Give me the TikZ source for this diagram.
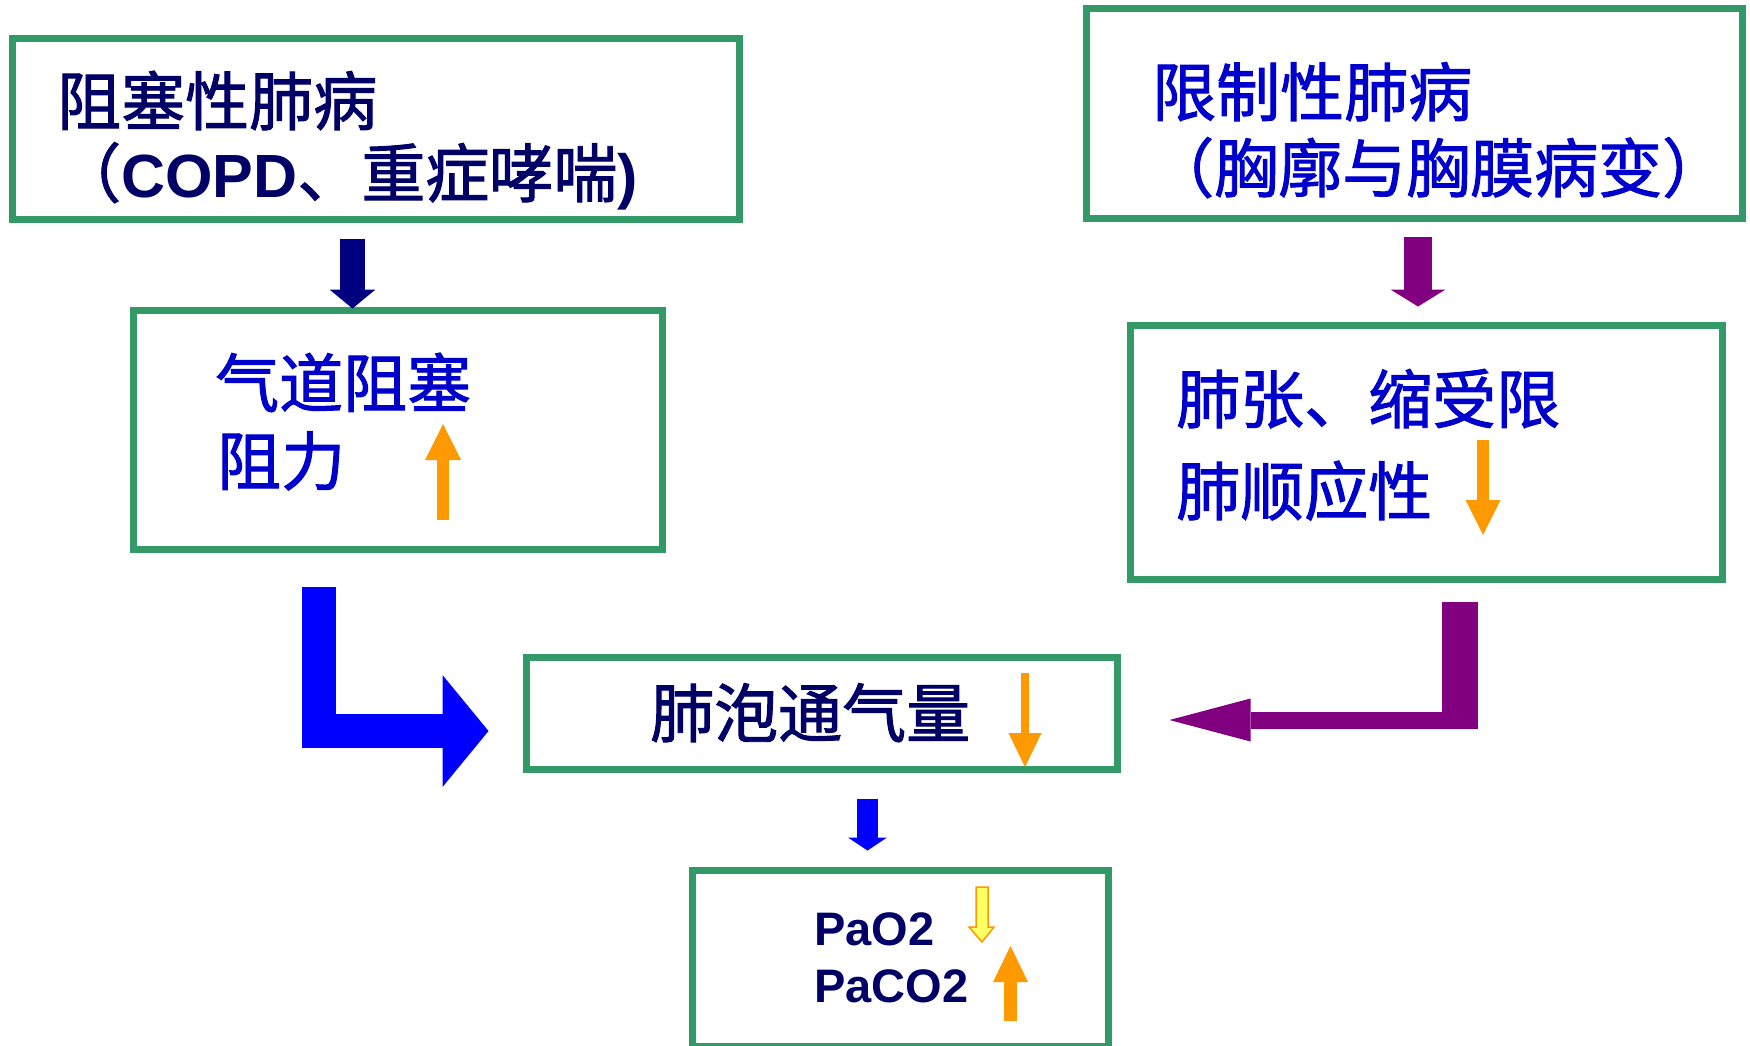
\documentclass[tikz,border=0pt]{standalone}
\usepackage{fontspec}
\usetikzlibrary{arrows.meta}
\newfontfamily\cjk{Noto Sans CJK SC}[FakeBold=1.5]
\newfontfamily\lat{Liberation Sans}
\definecolor{boxgreen}{HTML}{339966}
\definecolor{txnavy}{HTML}{000066}
\definecolor{txblue}{HTML}{0000CC}
\definecolor{arnavy}{HTML}{000080}
\definecolor{arpurple}{HTML}{800080}
\definecolor{arblue}{HTML}{0000FF}
\definecolor{arorange}{HTML}{FF9900}
\definecolor{aryellow}{HTML}{FFFF66}
\tikzset{
  box/.style={draw=boxgreen, line width=7pt, inner sep=0pt, rectangle},
  cjkt/.style={anchor=base west, inner sep=0pt, font=\cjk\fontsize{64}{64}\selectfont},
  latt/.style={anchor=base west, inner sep=0pt, font=\lat\bfseries\fontsize{47}{47}\selectfont, text=txnavy},
  fatarrow/.style={line cap=butt, line join=miter},
  orangearrow/.style={draw=arorange, line width=#1, line cap=butt},
}
\begin{document}
\begin{tikzpicture}[x=1pt,y=-1pt]
\useasboundingbox (0,0) rectangle (1750,1045);
% boxes
\node[box, minimum width=727pt, minimum height=181pt] (b1) at (376,129) {};
\node[box, minimum width=656pt, minimum height=210pt] (b2) at (1414.5,113.5) {};
\node[box, minimum width=529pt, minimum height=239pt] (b3) at (398,430) {};
\node[box, minimum width=592pt, minimum height=254pt] (b4) at (1426.5,452.5) {};
\node[box, minimum width=591pt, minimum height=112pt] (b5) at (822,713.5) {};
\node[box, minimum width=416pt, minimum height=176pt] (b6) at (900.5,958.5) {};
% texts
\node[cjkt, text=txnavy] (t1a) at (57,125) {阻塞性肺病};
\node[cjkt, text=txnavy] (t1b) at (57,197) {（{\lat\bfseries\fontsize{61}{61}\selectfont COPD}、重症哮喘{\lat\bfseries\fontsize{61}{61}\selectfont )}};
\node[cjkt, text=txblue] (t2a) at (1152,116) {限制性肺病};
\node[cjkt, text=txblue] (t2b) at (1150,192) {（胸廓与胸膜病变）};
\node[cjkt, text=txblue] (t3a) at (215,407) {气道阻塞};
\node[cjkt, text=txblue] (t3b) at (217,485) {阻力};
\node[cjkt, text=txblue] (t4a) at (1176,423) {肺张、缩受限};
\node[cjkt, text=txblue] (t4b) at (1176,515) {肺顺应性};
\node[cjkt, text=txnavy] (t5) at (650,737) {肺泡通气量};
\node[latt] (t6a) at (814,945) {PaO2};
\node[latt] (t6b) at (814,1002) {PaCO2};
% connectors
\draw[fatarrow, arnavy, line width=25pt, -{Triangle[width=46pt,length=19pt,line width=0pt]}]
  ([xshift=-23.5pt,yshift=-15.5pt]b1.south) -- ([xshift=-45.5pt,yshift=-1.5pt]b3.north);
\draw[fatarrow, arpurple, line width=28pt, -{Triangle[width=55pt,length=17pt,line width=0pt]}]
  ([xshift=3.5pt,yshift=-14.5pt]b2.south) -- ([xshift=-8.5pt,yshift=15.5pt]b4.north);
\draw[fatarrow, arblue, line width=34pt, -{Triangle[width=112pt,length=46pt,line width=0pt]}]
  ([xshift=-79pt,yshift=-33.5pt]b3.south) |- ([xshift=-34.5pt,yshift=-17.5pt]b5.west);
\coordinate (p4s) at ([xshift=33.5pt,yshift=-18.5pt]b4.south);
\coordinate (p5e) at ([xshift=48.5pt,yshift=-6.5pt]b5.east);
\draw[fatarrow, arpurple, line width=36pt] (p4s) -- ([yshift=-8.5pt]p4s |- p5e);
\draw[fatarrow, arpurple, line width=17pt, -{Triangle[width=43pt,length=81pt,line width=0pt]}]
  ([xshift=18pt]p4s |- p5e) -- (p5e);
\draw[fatarrow, arblue, line width=21pt, -{Triangle[width=39pt,length=13pt,line width=0pt]}]
  ([xshift=45.5pt,yshift=-25.5pt]b5.south) -- ([xshift=-33pt,yshift=16.5pt]b6.north);
% indicator arrows
\draw[orangearrow=12pt, -{Triangle[width=36pt,length=36pt,line width=0pt]}] (443,520) -- (443,424);
\draw[orangearrow=12pt, -{Triangle[width=35pt,length=35pt,line width=0pt]}] (1483,440) -- (1483,535);
\draw[orangearrow=8pt, -{Triangle[width=33pt,length=34pt,line width=0pt]}] (1025,673) -- (1025,767);
\filldraw[fill=aryellow, draw=arorange, line width=1.5pt, line join=miter]
  (976,887) -- (988,887) -- (988,927) -- (994,927) -- (982,942) -- (969,927) -- (976,927) -- cycle;
\draw[orangearrow=13pt, -{Triangle[width=35pt,length=36pt,line width=0pt]}] (1010.5,1021) -- (1010.5,946);
\end{tikzpicture}
\end{document}
